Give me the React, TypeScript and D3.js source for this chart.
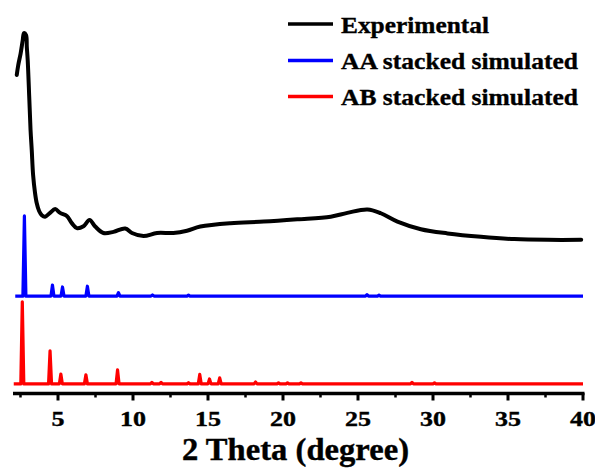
import React from "react";
import * as d3 from "d3";

// Experimental pattern: 2θ (degree) and intensity (a.u., stacked)
const expTheta = [2.25, 2.35, 2.51, 2.65, 2.73, 2.87, 2.92, 2.98, 3.09, 3.17, 3.25, 3.34, 3.47, 3.58, 3.74, 3.92, 4.14, 4.47, 4.81, 5.14, 5.59, 5.92, 6.26, 6.7, 7.1, 7.48, 8.03, 8.7, 9.48, 9.93, 10.7, 11.6, 12.69, 13.6, 14.49, 16.5, 18.72, 20.95, 23.18, 24.29, 25.63, 26.52, 27.63, 29.19, 30.97, 33.2, 35.42, 37.65, 39.88];
const expIntensity = [83.7, 86.3, 89.4, 92.9, 94.7, 94.2, 91.1, 87.6, 77.1, 69.2, 63.9, 57.4, 52.6, 50.0, 47.9, 46.8, 46.4, 47.4, 48.4, 47.4, 46.6, 44.7, 43.4, 43.9, 45.5, 43.8, 42.1, 42.4, 43.3, 42.1, 41.3, 42.1, 42.1, 42.7, 43.8, 44.7, 45.1, 45.7, 46.4, 47.4, 48.3, 47.3, 45.1, 43.1, 42.0, 41.1, 40.5, 40.3, 40.3];

// AA stacked simulated: peak positions and heights
const aaStart = 2.15;
const aaOffset = 25.5;
const aaPeakPos = [2.76, 4.63, 5.3, 6.96, 9.03, 11.3, 13.7, 25.6, 26.4];
const aaPeakInt = [21.1, 2.9, 2.4, 2.6, 0.9, 0.3, 0.25, 0.4, 0.25];

// AB stacked simulated
const abStart = 2.05;
const abOffset = 2.4;
const abPeakPos = [2.62, 4.47, 5.19, 6.86, 8.97, 11.26, 11.87, 13.7, 14.45, 15.1, 15.78, 18.17, 19.7, 20.3, 21.2, 28.6, 30.1];
const abPeakInt = [21.6, 8.7, 2.6, 2.4, 3.7, 0.4, 0.4, 0.3, 2.5, 1.3, 1.6, 0.5, 0.25, 0.25, 0.25, 0.4, 0.25];

const xDomain = [2, 40];
const yDomain = [0, 100];
const xMajorTicks = [5, 10, 15, 20, 25, 30, 35, 40];
const xMinorTicks = [2.5, 7.5, 12.5, 17.5, 22.5, 27.5, 32.5, 37.5];
const xTitle = "2 Theta (degree)";
const legendLabels = ["Experimental", "AA stacked simulated", "AB stacked simulated"];
const legendColors = ["#000000", "#0000ff", "#ff0000"];

const W = 595;
const H = 472;
const FONT = "'Liberation Serif', 'Times New Roman', serif";

function stickPoints(start: number, offset: number, pos: number[], ints: number[], end: number) {
  const w = 0.1;
  const pts: [number, number][] = [[start, offset]];
  pos.forEach((p, i) => {
    pts.push([p - w, offset]);
    pts.push([p, offset + ints[i]]);
    pts.push([p + w, offset]);
  });
  pts.push([end, offset]);
  return pts;
}

export default function App() {
  const x = d3.scaleLinear().domain(xDomain).range([13, 583]);
  const y = d3.scaleLinear().domain(yDomain).range([393, 13]);

  const expLine = d3
    .line<number>()
    .x((_, i) => x(expTheta[i]))
    .y((d) => y(d))
    .curve(d3.curveCatmullRom.alpha(0.5));

  const simLine = d3
    .line<[number, number]>()
    .x((d) => x(d[0]))
    .y((d) => y(d[1]));

  const aaPts = stickPoints(aaStart, aaOffset, aaPeakPos, aaPeakInt, xDomain[1]);
  const abPts = stickPoints(abStart, abOffset, abPeakPos, abPeakInt, xDomain[1]);

  const legendY = [24, 60.5, 96.5];
  const legendTextLen = [148, 237, 237];

  return (
    <svg
      width={W}
      height={H}
      style={{ position: "absolute", left: 0, top: 0, background: "#fff" }}
      fontFamily={FONT}
      fontWeight="bold"
    >
      <rect x={0} y={0} width={W} height={H} fill="#fff" />
      {/* series */}
      <path d={simLine(abPts) || ""} fill="none" stroke="#ff0000" strokeWidth={3.2} strokeLinejoin="round" />
      <path d={simLine(aaPts) || ""} fill="none" stroke="#0000ff" strokeWidth={3.2} strokeLinejoin="round" />
      <path d={expLine(expIntensity) || ""} fill="none" stroke="#000" strokeWidth={4} strokeLinejoin="round" strokeLinecap="round" />

      {/* x axis */}
      <line x1={x(xDomain[0])} x2={x(xDomain[1]) + 1.5} y1={393.5} y2={393.5} stroke="#000" strokeWidth={3.5} />
      {xMajorTicks.map((t) => (
        <line key={"M" + t} x1={x(t)} x2={x(t)} y1={393} y2={400.5} stroke="#000" strokeWidth={3} />
      ))}
      {xMinorTicks.map((t) => (
        <line key={"m" + t} x1={x(t)} x2={x(t)} y1={393} y2={397.5} stroke="#000" strokeWidth={2.5} />
      ))}
      {xMajorTicks.map((t) => (
        <text
          key={"L" + t}
          transform={`translate(${x(t)},426) scale(1.18,1)`}
          textAnchor="middle"
          fontSize={22}
          fill="#000"
          stroke="#000"
          strokeWidth={0.4}
        >
          {t}
        </text>
      ))}
      <text
        x={295.5}
        y={460}
        textAnchor="middle"
        fontSize={32}
        fill="#000"
        stroke="#000"
        strokeWidth={0.4}
        textLength={227}
        lengthAdjust="spacingAndGlyphs"
      >
        {xTitle}
      </text>

      {/* legend */}
      {legendLabels.map((lab, i) => (
        <g key={lab}>
          <line x1={288} x2={333} y1={legendY[i]} y2={legendY[i]} stroke={legendColors[i]} strokeWidth={3.5} />
          <text
            x={341}
            y={legendY[i] + 8.5}
            fontSize={23.5}
            fill="#000"
            stroke="#000"
            strokeWidth={0.35}
            textLength={legendTextLen[i]}
            lengthAdjust="spacingAndGlyphs"
          >
            {lab}
          </text>
        </g>
      ))}
    </svg>
  );
}
